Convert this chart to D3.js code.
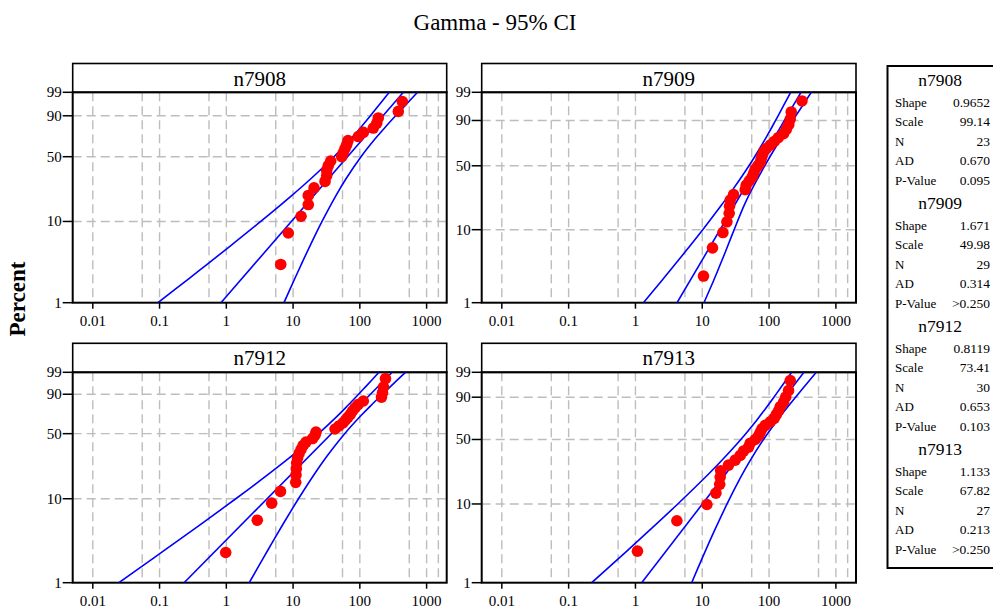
<!DOCTYPE html>
<html><head><meta charset="utf-8">
<script src="https://cdn.jsdelivr.net/npm/d3@7"></script>
<style>body{margin:0;background:#fff}svg{display:block}</style></head>
<body><svg id="chart" width="993" height="609"></svg>
<script>
// ---------------- data ----------------
const panelNames = ["n7908", "n7909", "n7912", "n7913"];
const shapes = [0.9652, 1.671, 0.8119, 1.133];
const scales = [99.14, 49.98, 73.41, 67.82];
const counts = [23, 29, 30, 27];
const adValues = ["0.670", "0.314", "0.653", "0.213"];
const pValues = ["0.095", ">0.250", "0.103", ">0.250"];
const shapeLabels = ["0.9652", "1.671", "0.8119", "1.133"];
const scaleLabels = ["99.14", "49.98", "73.41", "67.82"];

// observed values (sorted)
const n7908 = [6.53, 8.48, 13.15, 16.9, 16.9, 20.6, 30.1, 31.9, 31.9, 33.7, 36.6, 53.5, 56.5, 60.0, 63.6, 66.5, 94.8, 112.7, 159, 178.9, 189, 377, 432.5];
const n7909 = [10.43, 14.23, 20.37, 23.38, 25.3, 25.6, 26.2, 29.4, 43.95, 45.5, 50.5, 55.9, 58.9, 62.0, 67.7, 73.8, 76.3, 79.0, 82.6, 90.7, 104.1, 119.5, 137.2, 164.7, 180.8, 197, 207.5, 214.8, 310.7];
const n7912 = [0.979, 2.91, 4.78, 6.48, 10.95, 11.06, 11.18, 11.33, 11.65, 12.27, 13.15, 14.08, 15.62, 19.54, 21.3, 22.05, 42.5, 48.7, 55.9, 61.0, 66.5, 72.5, 77.6, 84.7, 93.9, 112.7, 211, 218.5, 226, 242.3];
const n7913 = [1.071, 4.17, 11.73, 16.0, 18.24, 18.56, 18.88, 24.7, 31.1, 37.0, 41.4, 49.3, 52.2, 62.0, 69.5, 73.8, 78.2, 87.6, 104.1, 119.5, 128.1, 138.6, 147, 164.7, 177.7, 195.7, 207.5];
const seriesValues = [n7908, n7909, n7912, n7913];

// 95% CI band (percent, lower x, upper x)
const bandPercents = [1, 2, 3, 5, 10, 20, 30, 50, 70, 80, 90, 95, 99];
const band7908Lo = [0.0945, 0.2759, 0.5155, 1.131, 3.277, 9.523, 17.93, 41.04, 75.67, 101.7, 144.0, 184.5, 275.2];
const band7908Hi = [7.306, 10.62, 13.29, 17.79, 27.15, 43.85, 61.08, 104.2, 174.5, 234.5, 343.1, 456.7, 731.4];
const band7909Lo = [1.317, 2.419, 3.458, 5.441, 10.17, 19.42, 28.94, 50.03, 77.01, 95.86, 125.1, 152.2, 210.7];
const band7909Hi = [10.6, 14.6, 17.5, 22.0, 30.0, 42.5, 55.5, 86.0, 130, 165, 226, 287, 428.4];
const band7912Lo = [0.0246, 0.08318, 0.1693, 0.4138, 1.386, 4.637, 9.456, 23.90, 47.17, 65.37, 95.75, 125.5, 193.3];
const band7912Hi = [2.203, 3.610, 4.840, 7.056, 12.04, 21.66, 32.10, 59.26, 105.1, 144.9, 217.8, 294.8, 482.4];
const band7913Lo = [0.2216, 0.5412, 0.9119, 1.759, 4.300, 10.63, 18.31, 37.76, 65.33, 85.60, 118.1, 149.0, 217.5];
const band7913Hi = [6.942, 9.805, 12.07, 15.84, 23.50, 36.80, 50.16, 82.41, 132.9, 174.8, 249.2, 325.8, 508.5];
const bandsLo = [band7908Lo, band7909Lo, band7912Lo, band7913Lo];
const bandsHi = [band7908Hi, band7909Hi, band7912Hi, band7913Hi];

// axis ticks
const xTickValues = [0.01, 0.1, 1, 10, 100, 1000];
const xTickLabels = ["0.01", "0.1", "1", "10", "100", "1000"];
const xMinorGrid = [0.055, 0.55, 5.5, 55, 550, 1500];
const yTickValues = [1, 10, 50, 90, 99];
const yTickLabels = ["1", "10", "50", "90", "99"];

// ---------------- gamma quantile (for the probability axis) ----------------
function lgamma(x){const c=[76.18009172947146,-86.50532032941677,24.01409824083091,-1.231739572450155,0.1208650973866179e-2,-0.5395239384953e-5];let y=x,t=x+5.5;t-=(x+0.5)*Math.log(t);let s=1.000000000190015;for(let j=0;j<6;j++){y+=1;s+=c[j]/y;}return -t+Math.log(2.5066282746310005*s/x);}
function gammaP(a,x){if(x<=0)return 0;const gln=lgamma(a);if(x<a+1){let ap=a,sum=1/a,del=sum;for(let n=0;n<500;n++){ap+=1;del*=x/ap;sum+=del;if(Math.abs(del)<Math.abs(sum)*1e-15)break;}return sum*Math.exp(-x+a*Math.log(x)-gln);}else{let b=x+1-a,c=1e300,d=1/b,h=d;for(let i=1;i<500;i++){const an=-i*(i-a);b+=2;d=an*d+b;if(Math.abs(d)<1e-300)d=1e-300;c=b+an/c;if(Math.abs(c)<1e-300)c=1e-300;d=1/d;const del=d*c;h*=del;if(Math.abs(del-1)<1e-15)break;}return 1-Math.exp(-x+a*Math.log(x)-gln)*h;}}
function gammaQuantile(p,a){let lo=-40,hi=6;for(let i=0;i<120;i++){const m=(lo+hi)/2;if(gammaP(a,Math.exp(m))<p)lo=m;else hi=m;}return Math.exp((lo+hi)/2);}

// ---------------- layout ----------------
const svg = d3.select("#chart");
const serif = "'Liberation Serif', 'Times New Roman', serif";
const cols = [[72.7, 446.7], [481.7, 856]];
const rows = [[63.5, 92.3, 302.7], [343.3, 372.3, 582.7]];

svg.append("text").attr("x", 495).attr("y", 30).attr("text-anchor", "middle")
  .attr("font-family", serif).attr("font-size", 23).text("Gamma - 95% CI");

svg.append("text").attr("transform", "translate(25,299) rotate(-90)")
  .attr("text-anchor", "middle").attr("font-family", serif).attr("font-weight", "bold")
  .attr("font-size", 23).text("Percent");

panelNames.forEach((name, i) => {
  const [x0, x1] = cols[i % 2];
  const [h0, y0, y1] = rows[Math.floor(i / 2)];
  const k = shapes[i], n = counts[i];
  const g = svg.append("g");

  const x = d3.scaleLog().domain([0.005, 2000]).range([x0, x1]);
  const tq = p => Math.log10(gammaQuantile(p / 100, k));
  const yLin = d3.scaleLinear().domain([tq(1), tq(99)]).range([y1, y0]);
  const y = p => yLin(tq(p));

  const clipId = "clip" + i;
  svg.append("clipPath").attr("id", clipId).append("rect")
    .attr("x", x0).attr("y", y0).attr("width", x1 - x0).attr("height", y1 - y0);

  // grid
  const grid = g.append("g").attr("stroke", "#bdbdbd").attr("stroke-width", 1.4).attr("stroke-dasharray", "9,5");
  xTickValues.concat(xMinorGrid).forEach(v => {
    grid.append("line").attr("x1", x(v)).attr("x2", x(v)).attr("y1", y0).attr("y2", y1);
  });
  [10, 50, 90].forEach(p => {
    grid.append("line").attr("x1", x0).attr("x2", x1).attr("y1", y(p)).attr("y2", y(p));
  });

  // header strip
  g.append("rect").attr("x", x0).attr("y", h0).attr("width", x1 - x0).attr("height", y0 - h0)
    .attr("fill", "#fff").attr("stroke", "#000").attr("stroke-width", 1.6);
  g.append("text").attr("x", (x0 + x1) / 2).attr("y", h0 + 22).attr("text-anchor", "middle")
    .attr("font-family", serif).attr("font-size", 21).text(name);

  // plot frame
  g.append("rect").attr("x", x0).attr("y", y0).attr("width", x1 - x0).attr("height", y1 - y0)
    .attr("fill", "none").attr("stroke", "#000").attr("stroke-width", 2);

  // axes ticks and labels
  xTickValues.forEach((v, j) => {
    g.append("line").attr("x1", x(v)).attr("x2", x(v)).attr("y1", y1).attr("y2", y1 + 6)
      .attr("stroke", "#000").attr("stroke-width", 1.5);
    g.append("text").attr("x", x(v)).attr("y", y1 + 23).attr("text-anchor", "middle")
      .attr("font-family", serif).attr("font-size", 15).text(xTickLabels[j]);
  });
  yTickValues.forEach((p, j) => {
    g.append("line").attr("x1", x0 - 10).attr("x2", x0).attr("y1", y(p)).attr("y2", y(p))
      .attr("stroke", "#000").attr("stroke-width", 1.5);
    g.append("text").attr("x", x0 - 11).attr("y", y(p) + 5).attr("text-anchor", "end")
      .attr("font-family", serif).attr("font-size", 15).text(yTickLabels[j]);
  });

  // fitted line and CI band
  const plot = g.append("g").attr("clip-path", `url(#${clipId})`);
  const line = d3.line().x(d => x(d[1])).y(d => y(d[0])).curve(d3.curveCatmullRom);
  const fitPts = [1, 99].map(p => [p, scales[i] * gammaQuantile(p / 100, k)]);
  const loPts = bandPercents.map((p, j) => [p, bandsLo[i][j]]);
  const hiPts = bandPercents.map((p, j) => [p, bandsHi[i][j]]);
  [loPts, fitPts, hiPts].forEach(pts => {
    plot.append("path").attr("d", line(pts)).attr("fill", "none")
      .attr("stroke", "#0000ff").attr("stroke-width", 1.6);
  });

  // points (Bernard median ranks)
  seriesValues[i].forEach((v, r) => {
    const p = 100 * (r + 1 - 0.3) / (n + 0.4);
    g.append("circle").attr("cx", x(v)).attr("cy", y(p)).attr("r", 5.8).attr("fill", "#ff0000");
  });
});

// legend table
const leg = svg.append("g");
leg.append("rect").attr("x", 887.5).attr("y", 66).attr("width", 140).attr("height", 502)
  .attr("fill", "#fff").attr("stroke", "#000").attr("stroke-width", 2);
const statNames = ["Shape", "Scale", "N", "AD", "P-Value"];
panelNames.forEach((name, i) => {
  const top = 86 + 123 * i;
  leg.append("text").attr("x", 940).attr("y", top).attr("text-anchor", "middle")
    .attr("font-family", serif).attr("font-size", 17.5).text(name);
  const vals = [shapeLabels[i], scaleLabels[i], String(counts[i]), adValues[i], pValues[i]];
  statNames.forEach((s, r) => {
    const yy = top + 21 + 19.4 * r;
    leg.append("text").attr("x", 895).attr("y", yy).attr("font-family", serif)
      .attr("font-size", 13).text(s);
    leg.append("text").attr("x", 990).attr("y", yy).attr("text-anchor", "end")
      .attr("font-family", serif).attr("font-size", 13.5).text(vals[r]);
  });
});
</script></body></html>
